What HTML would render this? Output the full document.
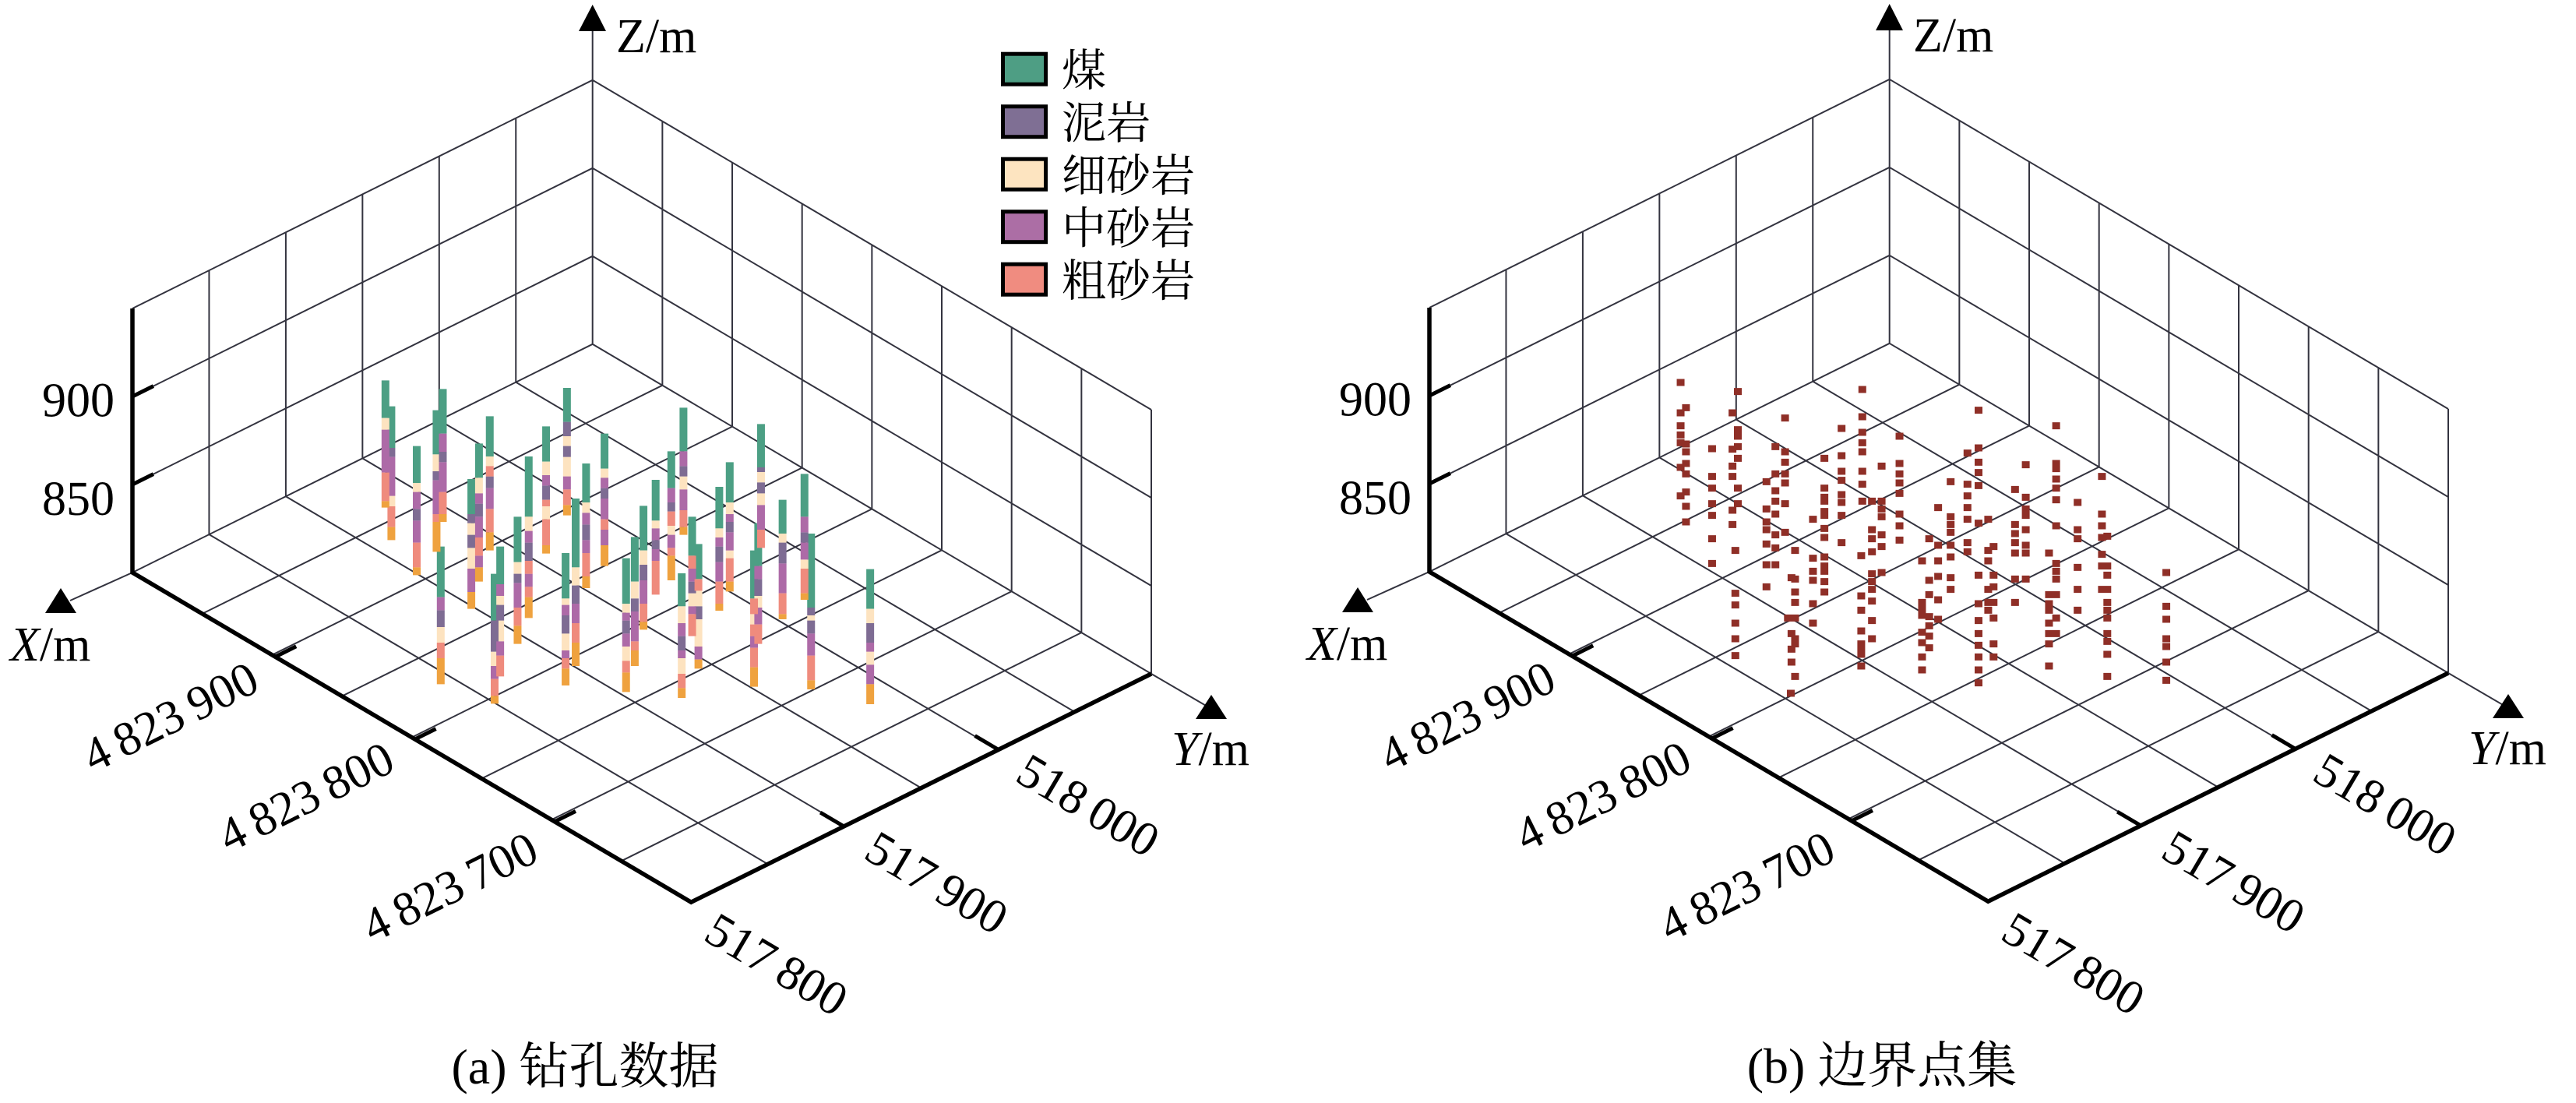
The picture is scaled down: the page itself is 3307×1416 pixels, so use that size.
<!DOCTYPE html>
<html><head><meta charset="utf-8">
<style>
html,body{margin:0;padding:0;background:#fff;}
svg{display:block;}
.grid{fill:none;stroke:#33333f;stroke-width:2;}
.thick{fill:none;stroke:#000;stroke-width:5.5;stroke-linejoin:miter;}
.tick{fill:none;stroke:#000;stroke-width:5;}
.t{font-family:"Liberation Serif","Times New Roman",Times,"DejaVu Serif","Noto Serif CJK SC",serif;font-size:62px;fill:#000;}
.lg{font-family:"Liberation Serif","Noto Serif CJK SC","Noto Serif CJK",serif;font-size:57px;fill:#000;}
.cap{font-family:"Liberation Serif","Noto Serif CJK SC","Noto Serif CJK",serif;font-size:64px;fill:#000;}
.bars path{fill:none;stroke-width:22.4;stroke-linecap:butt;}
</style></head>
<body>
<svg width="3307" height="1416" viewBox="0 0 3307 1416" xmlns="http://www.w3.org/2000/svg">
<rect width="3307" height="1416" fill="#fff"/>

<!-- ================= PANEL A ================= -->
<g>
<path class="grid" d="M662.25 490.67V151.67M563.8 539.53V200.53M465.35 588.4V249.4M366.9 637.27V298.27M268.45 686.13V347.13M760.7 441.8V102.8M850.36 494.7V155.7M940.03 547.6V208.6M1029.69 600.5V261.5M1119.35 653.4V314.4M1209.01 706.3V367.3M1298.68 759.2V420.2M1388.34 812.1V473.1M1478 865V526M760.7 328.8L170 622M760.7 215.8L170 509M760.7 102.8L170 396M760.7 328.8L1478 752M760.7 215.8L1478 639M760.7 102.8L1478 526M760.7 441.8L170 735M850.36 494.7L259.66 787.9M940.03 547.6L349.33 840.8M1029.69 600.5L438.99 893.7M1119.35 653.4L528.65 946.6M1209.01 706.3L618.31 999.5M1298.68 759.2L707.98 1052.4M1388.34 812.1L797.64 1105.3M760.7 441.8L1478 865M662.25 490.67L1379.55 913.87M563.8 539.53L1281.1 962.73M465.35 588.4L1182.65 1011.6M366.9 637.27L1084.2 1060.47M268.45 686.13L985.75 1109.33M760.7 102.8V36M170 735L90 771M1478 865L1550 907"/>
<path class="thick" d="M170 396V735L887.3 1158.2L1478 865"/>
<path class="tick" d="M353.3 843.2l26.9 -13.4M532.7 949l26.9 -13.4M712.1 1054.8l26.9 -13.4M1083.3 1060.9l-30.1 -17.8M1281.7 962.4l-30.1 -17.8M170 622l26.9 -13.4M170 509l26.9 -13.4"/>
<path d="M760.7 6L743 40H778ZM78 755L58 787H98ZM1555 892L1535 923H1575Z" fill="#000"/>

<g font-family="Liberation Serif, Times New Roman, DejaVu Serif, serif">
<text class="t" x="791" y="67">Z/m</text>
<text class="t" x="13" y="848"><tspan font-style="italic">X</tspan>/m</text>
<text class="t" x="1504" y="982"><tspan font-style="italic">Y</tspan>/m</text>
<text class="t" x="147" y="534.5" text-anchor="end">900</text>
<text class="t" x="147" y="661" text-anchor="end">850</text>
<g transform="translate(218.7 920.5) rotate(-26.4)"><text class="t" x="0" y="20.5" text-anchor="middle">4&#8201;823&#8201;900</text></g>
<g transform="translate(392.8 1023.3) rotate(-26.4)"><text class="t" x="0" y="20.5" text-anchor="middle">4&#8201;823&#8201;800</text></g>
<g transform="translate(577.5 1139) rotate(-26.4)"><text class="t" x="0" y="20.5" text-anchor="middle">4&#8201;823&#8201;700</text></g>
<g transform="translate(996.9 1238.3) rotate(30.5)"><text class="t" x="0" y="20.5" text-anchor="middle">517&#8201;800</text></g>
<g transform="translate(1202.5 1133.3) rotate(30.5)"><text class="t" x="0" y="20.5" text-anchor="middle">517&#8201;900</text></g>
<g transform="translate(1397 1034) rotate(30.5)"><text class="t" x="0" y="20.5" text-anchor="middle">518&#8201;000</text></g>
</g>

<!-- bars -->
<g class="bars" transform="translate(460 480) scale(0.446429 0.333333)">
<path stroke="#4c9f84" d="M78 25V170M95 125V285M168 278V420M225 140V310M243 58V230M237 665V860M325 405V540M347 268V400M378 163V318M392 770V950M408 665V810M458 550V725M490 318V550M540 202V338M600 54V185M596 690V865M625 480V745M655 345V495M708 230V365M770 710V885M795 628V800M820 508V680M855 408V565M900 298V440M935 130V298M930 768V895M960 550V700M978 655V790M1038 435V595M1068 340V495M1138 680V865M1150 575V740M1158 193V360M1220 485V615M1283 385V550M1302 615V900M1472 752V905"/>
<path stroke="#fde3c0" d="M78 170V215M95 470V510M168 420V455M225 310V375M237 975V1035M325 575V620M325 670V750M347 400V460M378 318V355M392 1070V1125M408 855V890M408 950V1030M458 725V770M490 550V605M540 338V390M540 510V560M600 240V278M600 320V395M596 865V890M596 1000V1065M625 745V815M655 495V535M708 365V400M770 885V920M770 1050V1105M795 800V865M820 680V735M855 565V595M900 585V620M935 395V445M930 895V960M930 1095V1155M960 845V895M978 835V895M978 945V1050M1038 595V630M1068 495V540M1068 680V710M1138 925V965M1150 855V900M1158 378V418M1158 460V505M1220 615V650M1283 715V750M1302 930V950M1472 905V960M1472 1070V1120"/>
<path stroke="#7e6c93" d="M95 285V320M168 520V565M225 375V410M243 300V340M237 910V975M325 540V575M325 620V670M347 500V550M378 395V440M392 950V1070M408 890V950M458 770V805M490 650V720M540 430V485M600 185V240M600 278V320M596 930V1000M625 815V885M655 580V640M708 440V480M770 950V1000M795 865V915M820 735V795M855 640V675M900 495V530M935 355V395M930 1010V1065M960 800V845M978 895V945M1038 665V725M1068 570V610M1150 790V855M1158 360V378M1158 418V460M1220 650V730M1283 610V650M1302 900V930M1302 950V1000M1472 960V1035"/>
<path stroke="#ad6aa7" d="M78 215V380M95 320V470M168 455V520M168 565V650M225 410V540M243 230V300M243 340V455M237 860V910M325 750V840M347 460V500M347 550V630M347 700V745M378 440V520M392 1125V1175M408 810V855M408 1030V1085M458 805V900M490 605V650M490 770V820M540 390V430M600 395V445M596 890V930M596 1065V1095M625 885V960M655 535V580M655 640V690M708 400V440M708 480V560M708 600V660M770 920V950M770 1000V1050M795 915V1030M820 795V885M855 595V640M855 675V720M900 440V495M900 620V670M935 298V355M935 445V525M930 960V1010M930 1065V1095M960 750V800M960 895V925M978 1050V1100M1038 630V665M1038 725V800M1068 540V570M1068 610V680M1138 1010V1055M1150 740V790M1150 900V965M1158 505V600M1220 730V845M1283 550V610M1283 650V715M1302 1000V1085M1472 1035V1070M1472 1120V1195"/>
<path stroke="#ef8b7d" d="M78 380V490M95 510V590M168 650V745M225 540V570M243 455V540M237 1035V1095M347 630V700M378 355V395M378 520V610M392 1175V1240M408 1085V1165M458 900V970M490 720V770M490 820V860M540 485V510M540 560V660M600 445V505M596 1095V1135M625 960V1035M655 690V780M708 560V600M770 1105V1150M795 1030V1065M820 885V955M855 720V850M900 530V585M900 670V700M935 525V590M930 1155V1210M960 700V750M960 925V1010M978 790V835M1038 800V885M1068 710V800M1138 865V925M1138 965V1010M1138 1055V1130M1150 965V1040M1158 600V670M1220 845V925M1283 750V845M1302 1085V1180"/>
<path stroke="#efa23f" d="M78 490V515M95 590V640M168 745V775M225 570V685M243 540V570M237 1095V1195M325 840V905M347 745V800M378 610V680M392 1240V1270M458 970V1040M490 860V940M540 660V692M600 505V545M596 1135V1200M625 1035V1125M655 780V825M708 660V740M770 1150V1225M795 1065V1125M820 955V985M900 700V795M935 590V620M930 1210V1248M978 1100V1135M1038 885V912M1068 800V838M1138 1130V1205M1220 925V945M1283 845V870M1302 1180V1215M1472 1195V1272"/>
</g>

<!-- legend -->
<g stroke="#000" stroke-width="5">
<rect x="1287.5" y="69.2" width="55" height="39" fill="#4e9e84"/>
<rect x="1287.5" y="136.7" width="55" height="39" fill="#7f6f94"/>
<rect x="1287.5" y="204.2" width="55" height="39" fill="#fde4c0"/>
<rect x="1287.5" y="271.7" width="55" height="39" fill="#ac6ea5"/>
<rect x="1287.5" y="339.2" width="55" height="39" fill="#f08c80"/>
</g>
<text class="lg" x="1363" y="110.2">煤</text>
<text class="lg" x="1363" y="177.7">泥岩</text>
<text class="lg" x="1363" y="245.2">细砂岩</text>
<text class="lg" x="1363" y="312.7">中砂岩</text>
<text class="lg" x="1363" y="380.2">粗砂岩</text>

<text class="cap" x="751" y="1391" text-anchor="middle">(a) 钻孔数据</text>
</g>

<!-- ================= PANEL B ================= -->
<g transform="translate(1665 -1)">
<path class="grid" d="M662.25 490.67V151.67M563.8 539.53V200.53M465.35 588.4V249.4M366.9 637.27V298.27M268.45 686.13V347.13M760.7 441.8V102.8M850.36 494.7V155.7M940.03 547.6V208.6M1029.69 600.5V261.5M1119.35 653.4V314.4M1209.01 706.3V367.3M1298.68 759.2V420.2M1388.34 812.1V473.1M1478 865V526M760.7 328.8L170 622M760.7 215.8L170 509M760.7 102.8L170 396M760.7 328.8L1478 752M760.7 215.8L1478 639M760.7 102.8L1478 526M760.7 441.8L170 735M850.36 494.7L259.66 787.9M940.03 547.6L349.33 840.8M1029.69 600.5L438.99 893.7M1119.35 653.4L528.65 946.6M1209.01 706.3L618.31 999.5M1298.68 759.2L707.98 1052.4M1388.34 812.1L797.64 1105.3M760.7 441.8L1478 865M662.25 490.67L1379.55 913.87M563.8 539.53L1281.1 962.73M465.35 588.4L1182.65 1011.6M366.9 637.27L1084.2 1060.47M268.45 686.13L985.75 1109.33M760.7 102.8V36M170 735L90 771M1478 865L1550 907"/>
<path class="thick" d="M170 396V735L887.3 1158.2L1478 865"/>
<path class="tick" d="M353.3 843.2l26.9 -13.4M532.7 949l26.9 -13.4M712.1 1054.8l26.9 -13.4M1083.3 1060.9l-30.1 -17.8M1281.7 962.4l-30.1 -17.8M170 622l26.9 -13.4M170 509l26.9 -13.4"/>
<path d="M760.7 6L743 40H778ZM78 755L58 787H98ZM1555 892L1535 923H1575Z" fill="#000"/>

<g font-family="Liberation Serif, Times New Roman, DejaVu Serif, serif">
<text class="t" x="791" y="67">Z/m</text>
<text class="t" x="13" y="848"><tspan font-style="italic">X</tspan>/m</text>
<text class="t" x="1504" y="982"><tspan font-style="italic">Y</tspan>/m</text>
<text class="t" x="147" y="534.5" text-anchor="end">900</text>
<text class="t" x="147" y="661" text-anchor="end">850</text>
<g transform="translate(218.7 920.5) rotate(-26.4)"><text class="t" x="0" y="20.5" text-anchor="middle">4&#8201;823&#8201;900</text></g>
<g transform="translate(392.8 1023.3) rotate(-26.4)"><text class="t" x="0" y="20.5" text-anchor="middle">4&#8201;823&#8201;800</text></g>
<g transform="translate(577.5 1139) rotate(-26.4)"><text class="t" x="0" y="20.5" text-anchor="middle">4&#8201;823&#8201;700</text></g>
<g transform="translate(996.9 1238.3) rotate(30.5)"><text class="t" x="0" y="20.5" text-anchor="middle">517&#8201;800</text></g>
<g transform="translate(1202.5 1133.3) rotate(30.5)"><text class="t" x="0" y="20.5" text-anchor="middle">517&#8201;900</text></g>
<g transform="translate(1397 1034) rotate(30.5)"><text class="t" x="0" y="20.5" text-anchor="middle">518&#8201;000</text></g>
</g>

<text class="cap" x="751" y="1391" text-anchor="middle">(b) 边界点集</text>
</g>

<!-- scatter points panel b -->
<g transform="translate(2130 475.5) scale(0.459137 0.333333)">
<path fill="none" stroke="#8f2f27" stroke-width="21.8" d="M60 33v27M60 150v27M60 200v27M60 235v27M60 265v27M60 360v27M60 470v27M75 130v27M75 270v27M75 300v27M75 345v27M75 385v27M75 455v27M75 510v27M75 570v27M148 288v27M148 395v27M148 440v27M148 500v27M148 545v27M148 635v27M148 730v27M205 150v27M205 290v27M205 355v27M205 395v27M205 525v27M205 580v27M220 68v27M220 215v27M220 240v27M220 280v27M220 325v27M220 440v27M220 500v27M213 680v27M213 845v27M213 890v27M213 960v27M213 1020v27M213 1085v27M300 415v27M300 520v27M300 570v27M300 600v27M300 655v27M300 735v27M300 820v27M325 280v27M325 385v27M325 450v27M325 490v27M325 540v27M325 620v27M325 670v27M325 735v27M352 170v27M352 300v27M352 340v27M352 385v27M352 420v27M352 500v27M352 610v27M360 940v27M370 785v27M370 1000v27M370 1060v27M370 1110v27M380 680v27M380 790v27M380 840v27M380 880v27M380 940v27M380 1020v27M380 1040v27M380 1165v27M368 1230v27M430 560v27M430 710v27M430 760v27M430 795v27M430 885v27M430 960v27M462 325v27M462 440v27M462 475v27M462 490v27M462 530v27M462 545v27M462 595v27M462 630v27M462 705v27M462 740v27M462 760v27M462 800v27M462 840v27M510 210v27M510 315v27M510 375v27M510 410v27M510 465v27M510 495v27M510 545v27M510 650v27M568 60v27M568 165v27M568 225v27M568 265v27M568 300v27M568 375v27M568 425v27M568 490v27M565 700v27M565 855v27M565 910v27M565 990v27M565 1040v27M565 1060v27M565 1080v27M565 1125v27M595 490v27M595 600v27M595 635v27M595 685v27M595 770v27M595 800v27M595 830v27M595 875v27M595 950v27M595 1020v27M622 355v27M622 490v27M622 520v27M622 550v27M622 620v27M622 665v27M622 765v27M672 240v27M672 345v27M672 385v27M672 420v27M672 460v27M672 540v27M672 585v27M672 640v27M735 720v27M735 880v27M735 905v27M735 930v27M735 995v27M735 1035v27M735 1090v27M735 1140v27M755 635v27M755 795v27M755 850v27M755 935v27M755 970v27M755 1010v27M755 1055v27M780 515v27M780 660v27M780 720v27M780 780v27M780 870v27M780 945v27M815 415v27M815 550v27M815 580v27M815 610v27M815 660v27M815 705v27M815 785v27M815 830v27M862 305v27M862 425v27M862 470v27M862 515v27M862 560v27M862 650v27M862 685v27M893 140v27M893 285v27M893 340v27M893 380v27M893 430v27M893 575v27M893 775v27M893 885v27M893 950v27M893 1000v27M893 1045v27M893 1090v27M893 1140v27M893 1190v27M920 560v27M920 680v27M920 720v27M920 830v27M920 880v27M920 910v27M935 665v27M935 775v27M935 820v27M935 880v27M935 940v27M935 1040v27M935 1090v27M995 445v27M995 580v27M995 615v27M995 650v27M995 690v27M995 790v27M995 880v27M1025 350v27M1025 475v27M1025 520v27M1025 545v27M1025 600v27M1025 660v27M1025 690v27M1025 790v27M1090 690v27M1090 850v27M1090 885v27M1090 910v27M1090 960v27M1090 1000v27M1090 1040v27M1090 1125v27M1110 200v27M1110 345v27M1110 365v27M1110 405v27M1110 440v27M1110 485v27M1110 585v27M1110 730v27M1110 760v27M1110 790v27M1110 850v27M1110 940v27M1110 1000v27M1170 495v27M1170 600v27M1170 635v27M1170 745v27M1170 830v27M1170 910v27M1238 395v27M1238 540v27M1238 585v27M1238 630v27M1238 695v27M1238 740v27M1238 830v27M1253 625v27M1253 740v27M1253 775v27M1253 830v27M1253 880v27M1253 910v27M1253 940v27M1253 1000v27M1253 1030v27M1253 1080v27M1253 1165v27M1418 765v27M1418 895v27M1418 945v27M1418 1020v27M1418 1050v27M1418 1110v27M1418 1180v27"/>
</g>
</svg>
</body></html>
